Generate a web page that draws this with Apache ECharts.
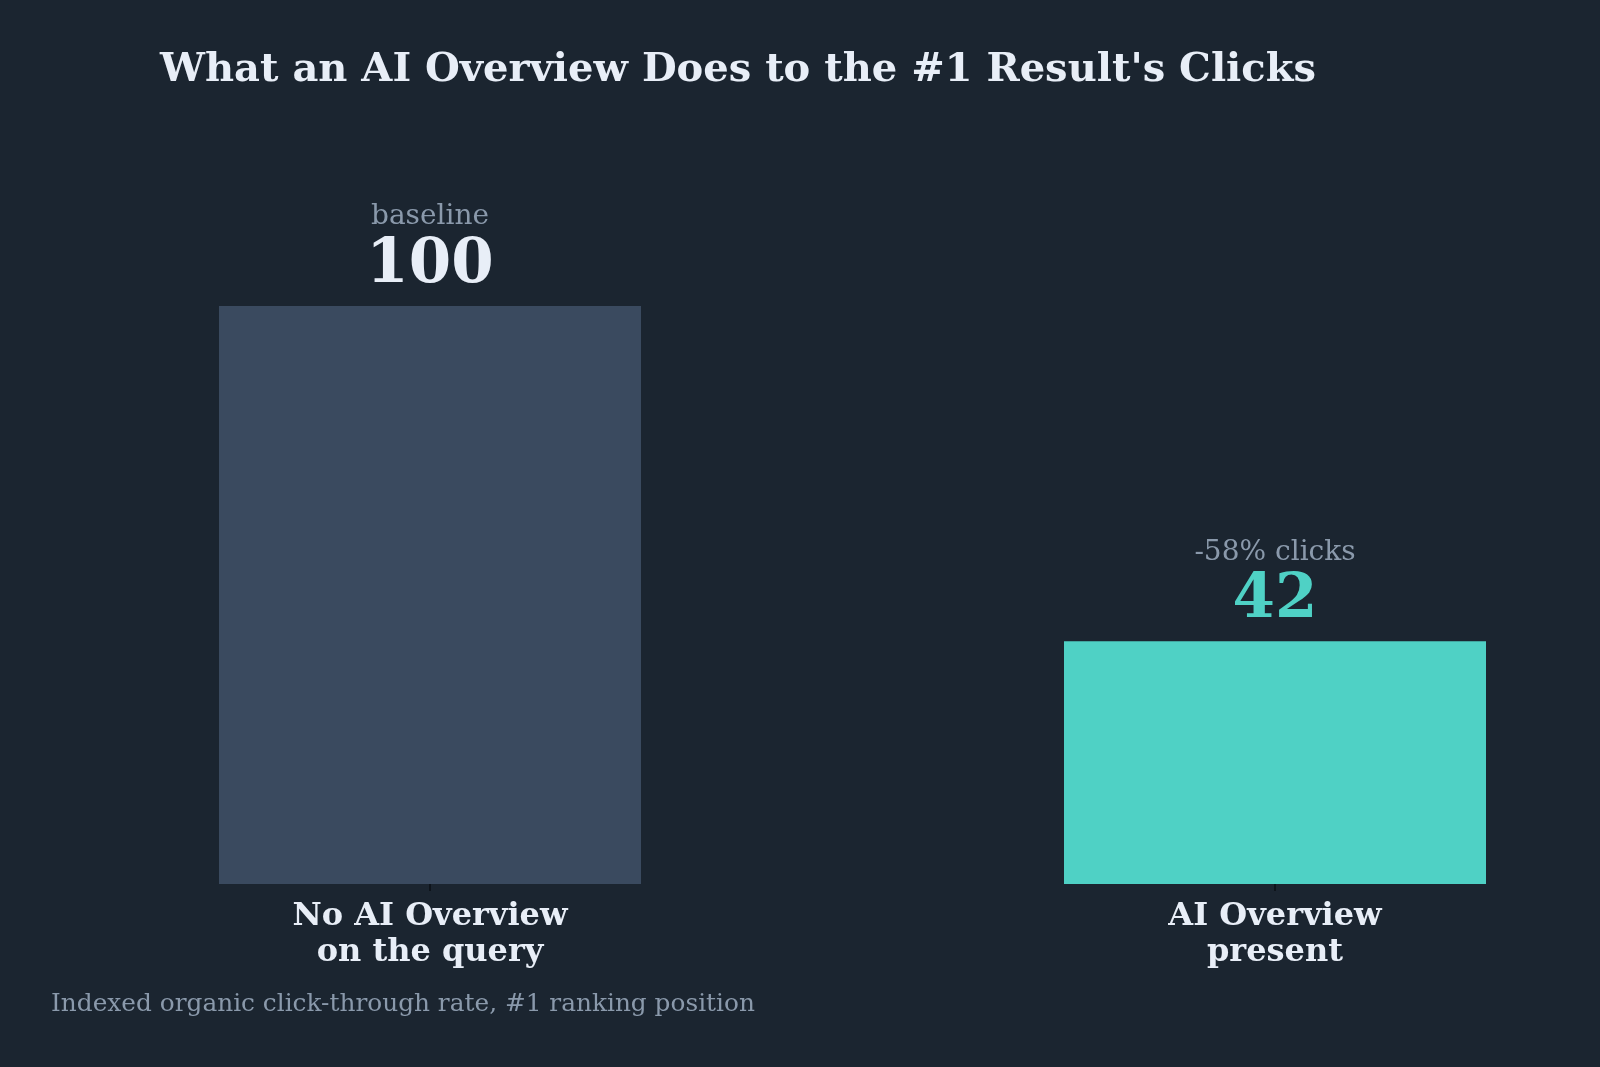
<!DOCTYPE html>
<html><head><meta charset="utf-8">
<script src="https://cdn.jsdelivr.net/npm/echarts@6/dist/echarts.min.js"></script>
<style>html,body{margin:0;padding:0;background:#1b2530;}#c{width:1600px;height:1067px;}</style>
</head><body><div id="c"></div>
<script>
const categories = ['No AI Overview\non the query', 'AI Overview\npresent'];
const values = [100, 42];
const topNotes = ['baseline', '-58% clicks'];
const titleText = "What an AI Overview Does to the #1 Result's Clicks";
const footnote = 'Indexed organic click-through rate, #1 ranking position';

const serif = '"DejaVu Serif", serif';
const chart = echarts.init(document.getElementById('c'), null, {renderer: 'canvas'});
chart.setOption({
  backgroundColor: '#1b2530',
  animation: false,
  title: [{
    text: titleText, left: 733, top: 46, textAlign: 'center',
    textStyle: {fontFamily: serif, fontWeight: 'bold', fontSize: 40, color: '#e8eef7'}
  }, {
    text: footnote, left: 46, top: 987,
    textStyle: {fontFamily: serif, fontWeight: 'normal', fontSize: 24.8, color: '#8a99ab'}
  }],
  grid: {left: 430, width: 845, top: 306, bottom: 183, containLabel: false, outerBoundsMode: 'none'},
  xAxis: {
    type: 'category', data: categories, boundaryGap: false,
    axisLine: {show: false},
    axisTick: {show: true, length: 7, lineStyle: {color: '#0e141b', width: 2}},
    axisLabel: {fontFamily: serif, fontWeight: 'bold', fontSize: 32, color: '#e8eef7', lineHeight: 36, margin: 15}
  },
  yAxis: {type: 'value', min: 0, max: 100, show: false, splitLine: {show: false}},
  series: [{
    type: 'bar', barWidth: 422,
    data: values.map((v, i) => ({
      value: v,
      itemStyle: {color: i === 0 ? '#3a4a5f' : '#4fd1c5'}
    })),
    label: {
      show: true, position: 'top', distance: 7,
      formatter: p => '{n|' + topNotes[p.dataIndex] + '}\n{' + (p.dataIndex === 0 ? 'v' : 'w') + '|' + p.value + '}',
      rich: {
        n: {fontFamily: serif, fontSize: 28, color: '#8a99ab', lineHeight: 32, align: 'center'},
        v: {fontFamily: serif, fontSize: 61, fontWeight: 'bold', color: '#e8eef7', lineHeight: 66, align: 'center'},
        w: {fontFamily: serif, fontSize: 61, fontWeight: 'bold', color: '#4fd1c5', lineHeight: 66, align: 'center'}
      }
    }
  }]
});
</script></body></html>
